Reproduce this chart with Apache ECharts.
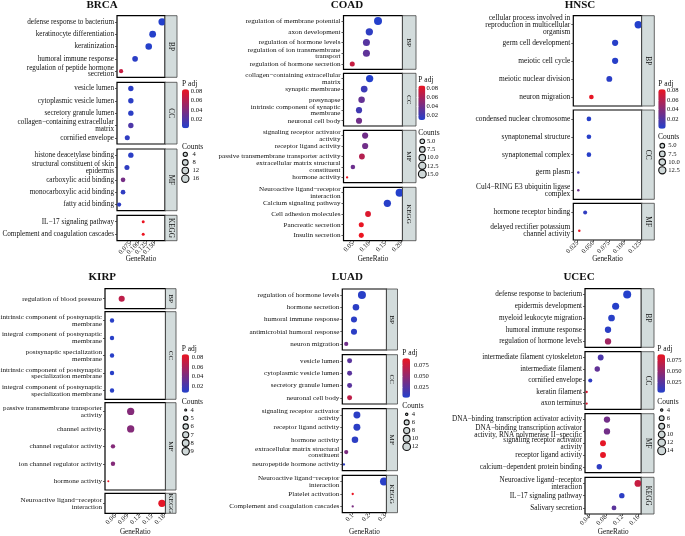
<!DOCTYPE html>
<html><head><meta charset="utf-8">
<script src="https://cdn.jsdelivr.net/npm/echarts@6/dist/echarts.min.js"></script>
<style>html,body{margin:0;padding:0;background:#fff}#c{width:685px;height:536px}</style>
</head><body><div id="c"></div>
<script>
// ---------------- DATA ----------------
const BRCA_terms = ['defense response to bacterium','keratinocyte differentiation','keratinization','humoral immune response','regulation of peptide hormone\nsecretion',
 'vesicle lumen','cytoplasmic vesicle lumen','secretory granule lumen','collagen−containing extracellular\nmatrix','cornified envelope',
 'histone deacetylase binding','structural constituent of skin\nepidermis','carboxylic acid binding','monocarboxylic acid binding','fatty acid binding',
 'IL−17 signaling pathway','Complement and coagulation cascades'];
const BRCA_ontology = ['BP','BP','BP','BP','BP','CC','CC','CC','CC','CC','MF','MF','MF','MF','MF','KEGG','KEGG'];
const BRCA_ratio = [0.173,0.144,0.132,0.090,0.047, 0.077,0.077,0.077,0.077,0.066, 0.077,0.065,0.053,0.053,0.041, 0.115,0.115];
const BRCA_count = [16,13,12,8,4, 7,7,7,7,6, 7,6,5,5,4, 3,3];
const BRCA_padj  = [0.0008,0.0015,0.0015,0.004,0.068, 0.004,0.004,0.004,0.018,0.006, 0.004,0.006,0.035,0.006,0.005, 0.084,0.084];
const BRCA_xticks = [0.050,0.075,0.100,0.125,0.150,0.175];
const BRCA_padjTicks = [0.02,0.04,0.06,0.08];
const BRCA_countBreaks = [4,8,12,16];

const COAD_terms = ['regulation of membrane potential','axon development','regulation of hormone levels','regulation of ion transmembrane\ntransport','regulation of hormone secretion',
 'collagen−containing extracellular\nmatrix','synaptic membrane','presynapse','intrinsic component of synaptic\nmembrane','neuronal cell body',
 'signaling receptor activator\nactivity','receptor ligand activity','passive transmembrane transporter activity','extracellular matrix structural\nconstituent','hormone activity',
 'Neuroactive ligand−receptor\ninteraction','Calcium signaling pathway','Cell adhesion molecules','Pancreatic secretion','Insulin secretion'];
const COAD_ontology = ['BP','BP','BP','BP','BP','CC','CC','CC','CC','CC','MF','MF','MF','MF','MF','KEGG','KEGG','KEGG','KEGG','KEGG'];
const COAD_ratio = [0.128,0.101,0.092,0.092,0.048, 0.102,0.085,0.077,0.069,0.069, 0.088,0.088,0.078,0.050,0.032, 0.195,0.157,0.097,0.076,0.076];
const COAD_count = [16,13,12,12,6, 13,11,10,9,9, 9,9,8,5,3, 16,13,8,6,6];
const COAD_padj  = [0.011,0.015,0.030,0.033,0.072, 0.011,0.020,0.035,0.022,0.040, 0.040,0.040,0.065,0.038,0.085, 0.011,0.012,0.080,0.085,0.086];
const COAD_xticks = [0.05,0.10,0.15,0.20];
const COAD_padjTicks = [0.02,0.04,0.06,0.08];
const COAD_countBreaks = [5.0,7.5,10.0,12.5,15.0];

const HNSC_terms = ['cellular process involved in\nreproduction in multicellular\norganism','germ cell development','meiotic cell cycle','meiotic nuclear division','neuron migration',
 'condensed nuclear chromosome','synaptonemal structure','synaptonemal complex','germ plasm','Cul4−RING E3 ubiquitin ligase\ncomplex',
 'hormone receptor binding','delayed rectifier potassium\nchannel activity'];
const HNSC_ontology = ['BP','BP','BP','BP','BP','CC','CC','CC','CC','CC','MF','MF'];
const HNSC_ratio = [0.122,0.085,0.085,0.0757,0.047, 0.043,0.043,0.043,0.026,0.026, 0.037,0.0276];
const HNSC_count = [13,9,9,8,5, 5,5,5,3,3, 4,3];
const HNSC_padj  = [0.0004,0.002,0.002,0.003,0.080, 0.002,0.002,0.002,0.015,0.030, 0.006,0.081];
const HNSC_xticks = [0.025,0.050,0.075,0.100,0.125];
const HNSC_padjTicks = [0.02,0.04,0.06,0.08];
const HNSC_countBreaks = [5.0,7.5,10.0,12.5];

const KIRP_terms = ['regulation of blood pressure',
 'intrinsic component of postsynaptic\nmembrane','integral component of postsynaptic\nmembrane','postsynaptic specialization\nmembrane','intrinsic component of postsynaptic\nspecialization membrane','integral component of postsynaptic\nspecialization membrane',
 'passive transmembrane transporter\nactivity','channel activity','channel regulator activity','ion channel regulator activity','hormone activity',
 'Neuroactive ligand−receptor\ninteraction'];
const KIRP_ontology = ['BP','CC','CC','CC','CC','CC','MF','MF','MF','MF','MF','KEGG'];
const KIRP_ratio = [0.0764, 0.0527,0.0527,0.0527,0.0527,0.0527, 0.0984,0.0984,0.055,0.055,0.0436, 0.175];
const KIRP_count = [7, 5,5,5,5,5, 9,9,5,5,4, 9];
const KIRP_padj  = [0.068, 0.008,0.008,0.008,0.008,0.008, 0.045,0.045,0.045,0.045,0.087, 0.084];
const KIRP_xticks = [0.06,0.09,0.12,0.15,0.18];
const KIRP_padjTicks = [0.02,0.04,0.06,0.08];
const KIRP_countBreaks = [4,5,6,7,8,9];

const LUAD_terms = ['regulation of hormone levels','hormone secretion','humoral immune response','antimicrobial humoral response','neuron migration',
 'vesicle lumen','cytoplasmic vesicle lumen','secretory granule lumen','neuronal cell body',
 'signaling receptor activator\nactivity','receptor ligand activity','hormone activity','extracellular matrix structural\nconstituent','neuropeptide hormone activity',
 'Neuroactive ligand−receptor\ninteraction','Platelet activation','Complement and coagulation cascades'];
const LUAD_ontology = ['BP','BP','BP','BP','BP','CC','CC','CC','CC','MF','MF','MF','MF','MF','KEGG','KEGG','KEGG'];
const LUAD_ratio = [0.157,0.120,0.108,0.108,0.060, 0.081,0.081,0.081,0.081, 0.126,0.126,0.114,0.060,0.046, 0.293,0.100,0.100];
const LUAD_count = [13,9,8,8,5, 6,6,6,6, 10,10,9,5,4, 13,4,4];
const LUAD_padj  = [0.003,0.004,0.004,0.004,0.035, 0.025,0.025,0.025,0.070, 0.004,0.004,0.005,0.040,0.006, 0.003,0.090,0.040];
const LUAD_xticks = [0.1,0.2,0.3];
const LUAD_padjTicks = [0.025,0.050,0.075];
const LUAD_countBreaks = [4,6,8,10,12];

const UCEC_terms = ['defense response to bacterium','epidermis development','myeloid leukocyte migration','humoral immune response','regulation of hormone levels',
 'intermediate filament cytoskeleton','intermediate filament','cornified envelope','keratin filament','axon terminus',
 'DNA−binding transcription activator activity','DNA−binding transcription activator\nactivity, RNA polymerase II−specific','signaling receptor activator\nactivity','receptor ligand activity','calcium−dependent protein binding',
 'Neuroactive ligand−receptor\ninteraction','IL−17 signaling pathway','Salivary secretion'];
const UCEC_ontology = ['BP','BP','BP','BP','BP','CC','CC','CC','CC','CC','MF','MF','MF','MF','MF','KEGG','KEGG','KEGG'];
const UCEC_ratio = [0.132,0.104,0.094,0.0855,0.0855, 0.0677,0.0594,0.0424,0.0337,0.0337, 0.083,0.083,0.0733,0.0733,0.0643, 0.158,0.119,0.100];
const UCEC_count = [14,11,10,9,9, 8,7,5,4,4, 9,9,8,8,7, 10,7,6];
const UCEC_padj  = [0.001,0.002,0.003,0.004,0.055, 0.018,0.028,0.006,0.080,0.080, 0.035,0.035,0.085,0.085,0.006, 0.072,0.005,0.025];
const UCEC_xticks = [0.04,0.08,0.12,0.16];
const UCEC_padjTicks = [0.025,0.050,0.075];
const UCEC_countBreaks = [4,6,8,10,12,14];

// ---------------- LAYOUT / STYLE ----------------
const FONT = "'Liberation Serif','Times New Roman',serif";
const LOW = '#2340cc', HIGH = '#ec1420';
const STRIP = '#d3dcdc';
const panels = [
 {name:'BRCA', terms:BRCA_terms, ont:BRCA_ontology, ratio:BRCA_ratio, count:BRCA_count, padj:BRCA_padj, xt:BRCA_xticks, xDec:3, pt:BRCA_padjTicks, pDec:2, cb:BRCA_countBreaks, cDec:0,
  L:{plotL:117, plotR:165, stripR:177, facets:{BP:[15.7,77.3],CC:[82.3,144],MF:[149,210.7],KEGG:[215.3,240.7]}, xMin:0.0344, xMax:0.182,
     titleX:102, titleY:5, genY:259, bar:{x:182,y:89.3,w:7,h:39,min:0.0007,max:0.0843,labelX:190.7}, padjT:[182,84.5], cntT:[182,146.7],
     leg:{cx:185.3,y0:154.3,y1:178.7,labelX:192.5}, dmin:3, dmax:7.3, font:7.2}},
 {name:'COAD', terms:COAD_terms, ont:COAD_ontology, ratio:COAD_ratio, count:COAD_count, padj:COAD_padj, xt:COAD_xticks, xDec:2, pt:COAD_padjTicks, pDec:2, cb:COAD_countBreaks, cDec:1,
  L:{plotL:343.5, plotR:402.5, stripR:416, facets:{BP:[15.7,69.3],CC:[73.3,126],MF:[130.3,182.7],KEGG:[187.3,240.7]}, xMin:0.0208, xMax:0.204,
     titleX:347, titleY:5, genY:259, bar:{x:418.3,y:85.5,w:7,h:34.5,min:0.0106,max:0.0861,labelX:426.5}, padjT:[418.3,80], cntT:[418.3,132.7],
     leg:{cx:422.3,y0:141.3,y1:174,labelX:427}, dmin:2.3, dmax:8, font:7.1}},
 {name:'HNSC', terms:HNSC_terms, ont:HNSC_ontology, ratio:HNSC_ratio, count:HNSC_count, padj:HNSC_padj, xt:HNSC_xticks, xDec:3, pt:HNSC_padjTicks, pDec:2, cb:HNSC_countBreaks, cDec:1,
  L:{plotL:573.3, plotR:641.7, stripR:654.3, facets:{BP:[15.7,106],CC:[110,199.3],MF:[203.3,240]}, xMin:0.018, xMax:0.1276,
     titleX:580, titleY:5, genY:259, bar:{x:658.3,y:89.3,w:7.4,h:39.4,min:0.0002,max:0.0821,labelX:667}, padjT:[658.3,84.5], cntT:[658,137.3],
     leg:{cx:662.3,y0:145.7,y1:170.3,labelX:668.3}, dmin:2.5, dmax:7.3, font:7.4}},
 {name:'KIRP', terms:KIRP_terms, ont:KIRP_ontology, ratio:KIRP_ratio, count:KIRP_count, padj:KIRP_padj, xt:KIRP_xticks, xDec:2, pt:KIRP_padjTicks, pDec:2, cb:KIRP_countBreaks, cDec:0,
  L:{plotL:105, plotR:165.5, stripR:176, facets:{BP:[288.7,308.7],CC:[311.7,399.3],MF:[402.7,490],KEGG:[493.3,513.3]}, xMin:0.0355, xMax:0.1837,
     titleX:102.3, titleY:277, genY:532.5, bar:{x:181.7,y:354.3,w:7.3,h:38.4,min:0.0058,max:0.0872,labelX:191.7}, padjT:[181.7,349.3], cntT:[181.7,401.7],
     leg:{cx:185.7,y0:410,y1:451.3,labelX:190.5}, dmin:2, dmax:7.3, font:7.1}},
 {name:'LUAD', terms:LUAD_terms, ont:LUAD_ontology, ratio:LUAD_ratio, count:LUAD_count, padj:LUAD_padj, xt:LUAD_xticks, xDec:1, pt:LUAD_padjTicks, pDec:3, cb:LUAD_countBreaks, cDec:0,
  L:{plotL:342.3, plotR:386.5, stripR:397.5, facets:{BP:[289,350],CC:[354.7,404],MF:[408.7,470.7],KEGG:[475.3,512.7]}, xMin:0.0358, xMax:0.3086,
     titleX:347.3, titleY:277, genY:532.5, bar:{x:402.3,y:358.3,w:7.7,h:39.4,min:0.0004,max:0.091,labelX:414}, padjT:[402.3,353.3], cntT:[402.3,406],
     leg:{cx:406.7,y0:414.3,y1:446.7,labelX:411.7}, dmin:2.3, dmax:8, font:7.1}},
 {name:'UCEC', terms:UCEC_terms, ont:UCEC_ontology, ratio:UCEC_ratio, count:UCEC_count, padj:UCEC_padj, xt:UCEC_xticks, xDec:2, pt:UCEC_padjTicks, pDec:3, cb:UCEC_countBreaks, cDec:0,
  L:{plotL:585, plotR:641.3, stripR:654, facets:{BP:[288.7,347.3],CC:[351.7,409.3],MF:[413.7,472.7],KEGG:[477.3,514]}, xMin:0.0296, xMax:0.1663,
     titleX:579, titleY:277, genY:532.5, bar:{x:657.3,y:354.3,w:7.7,h:38.4,min:0.0007,max:0.088,labelX:666.7}, padjT:[657.3,349.3], cntT:[657.3,401.7],
     leg:{cx:661.7,y0:410,y1:450.7,labelX:666.7}, dmin:2.3, dmax:8, font:7.2}}
];

// ---------------- BUILD ----------------
const grids=[], xAxes=[], yAxes=[], series=[], visualMaps=[], graphics=[];
const TXT = '#111';
function txt(x,y,text,opt){
  return {type:'text', x, y, silent:true, z:50, style:Object.assign({text, fontSize:7, fontFamily:FONT, fill:TXT, align:'left', verticalAlign:'middle'}, opt||{})};
}
panels.forEach(p=>{
  const L = p.L;
  const cmin = Math.min(...p.count), cmax = Math.max(...p.count);
  const sizeFn = c => L.dmin + (L.dmax-L.dmin)*Math.sqrt(Math.max(0,c-cmin)/(cmax-cmin));
  const fnames = Object.keys(L.facets);
  const sIdx = [];
  fnames.forEach((f,fi)=>{
    const [t,b] = L.facets[f];
    const gi = grids.length;
    const last = fi===fnames.length-1;
    grids.push({left:L.plotL, top:t, width:L.plotR-L.plotL, height:b-t, show:true, borderColor:'#000', borderWidth:1.2, backgroundColor:'#fff', containLabel:false, outerBoundsMode:'none'});
    const idx = p.ont.map((o,i)=>o===f?i:-1).filter(i=>i>=0);
    xAxes.push({gridIndex:gi, type:'value', min:L.xMin, max:L.xMax, splitLine:{show:false}, axisLine:{show:false},
      axisTick:{show:last, customValues:p.xt, length:2, lineStyle:{color:'#333', width:0.8}},
      axisLabel:{show:last, customValues:p.xt, rotate:45, margin:2, fontSize:6.6, fontFamily:FONT, color:TXT, formatter:v=>Number(v).toFixed(p.xDec)}});
    yAxes.push({gridIndex:gi, type:'category', inverse:true, data:idx.map(i=>p.terms[i]), splitLine:{show:false}, axisLine:{show:false},
      axisTick:{show:true, alignWithLabel:true, length:2, lineStyle:{color:'#333', width:0.8}},
      axisLabel:{interval:0, margin:3, fontSize:L.font, lineHeight:L.font*0.95, fontFamily:FONT, color:TXT, align:'right'}});
    sIdx.push(series.length);
    series.push({type:'scatter', xAxisIndex:gi, yAxisIndex:gi, clip:false, silent:true, z:3,
      data:idx.map(i=>[p.ratio[i], p.terms[i], p.padj[i], p.count[i]]),
      symbol:'circle', symbolSize:v=>sizeFn(v[3]), itemStyle:{opacity:1}});
    graphics.push({type:'rect', silent:true, z:5, shape:{x:L.plotR, y:t, width:L.stripR-L.plotR, height:b-t}, style:{fill:STRIP, stroke:'#444', lineWidth:0.8}});
    const st = txt((L.plotR+L.stripR)/2, (t+b)/2, f, {align:'center', fontSize:L.font});
    st.rotation = -Math.PI/2;
    graphics.push(st);
  });
  graphics.push(txt(L.titleX, L.titleY, p.name, {align:'center', fontSize:11, fontWeight:'bold'}));
  graphics.push(txt((L.plotL+L.plotR)/2, L.genY, 'GeneRatio', {align:'center', fontSize:7.2}));
  visualMaps.push({type:'continuous', seriesIndex:sIdx, dimension:2, min:L.bar.min, max:L.bar.max, calculable:false, hoverLink:false,
    inRange:{color:[LOW,HIGH]}, left:L.bar.x, top:L.bar.y, itemWidth:L.bar.w, itemHeight:L.bar.h, padding:0, orient:'vertical', text:null, show:true});
  graphics.push(txt(L.padjT[0], L.padjT[1], 'P adj', {fontSize:7.5}));
  const cg = grids.length;
  grids.push({left:L.bar.x, top:L.bar.y, width:L.bar.w, height:L.bar.h, show:false, containLabel:false, outerBoundsMode:'none'});
  xAxes.push({gridIndex:cg, type:'value', show:false, min:0, max:1});
  yAxes.push({gridIndex:cg, type:'value', position:'right', min:L.bar.min, max:L.bar.max, z:20, splitLine:{show:false}, axisLine:{show:false},
    axisTick:{show:true, inside:true, length:1.6, customValues:p.pt, lineStyle:{color:'#fff', width:0.8}},
    axisLabel:{customValues:p.pt, margin:L.bar.labelX-(L.bar.x+L.bar.w), fontSize:6.6, fontFamily:FONT, color:TXT, formatter:v=>Number(v).toFixed(p.pDec)}});
  graphics.push(txt(L.cntT[0], L.cntT[1], 'Counts', {fontSize:7.5}));
  const n = p.cb.length, s = (L.leg.y1-L.leg.y0)/(n-1);
  const lg = grids.length;
  const labs = p.cb.map(v=>v.toFixed(p.cDec));
  grids.push({left:L.leg.cx-3, top:L.leg.y0-s/2, width:6, height:n*s, show:false, containLabel:false, outerBoundsMode:'none'});
  xAxes.push({gridIndex:lg, type:'value', show:false, min:-1, max:1});
  yAxes.push({gridIndex:lg, type:'category', position:'right', inverse:true, data:labs, axisLine:{show:false}, axisTick:{show:false}, splitLine:{show:false},
    axisLabel:{interval:0, margin:L.leg.labelX-(L.leg.cx+3), fontSize:6.6, fontFamily:FONT, color:TXT}});
  series.push({type:'scatter', xAxisIndex:lg, yAxisIndex:lg, silent:true, clip:false,
    data:p.cb.map((v,i)=>[0, labs[i], v]), symbolSize:v=>sizeFn(v[2]),
    itemStyle:{color:'#cfd8d8', borderColor:'#111', borderWidth:1.1, opacity:1}});
});

const chart = echarts.init(document.getElementById('c'), null, {renderer:'canvas', devicePixelRatio:1});
chart.setOption({animation:false, backgroundColor:'#fff', grid:grids, xAxis:xAxes, yAxis:yAxes, series, visualMap:visualMaps, graphic:graphics});
</script></body></html>
